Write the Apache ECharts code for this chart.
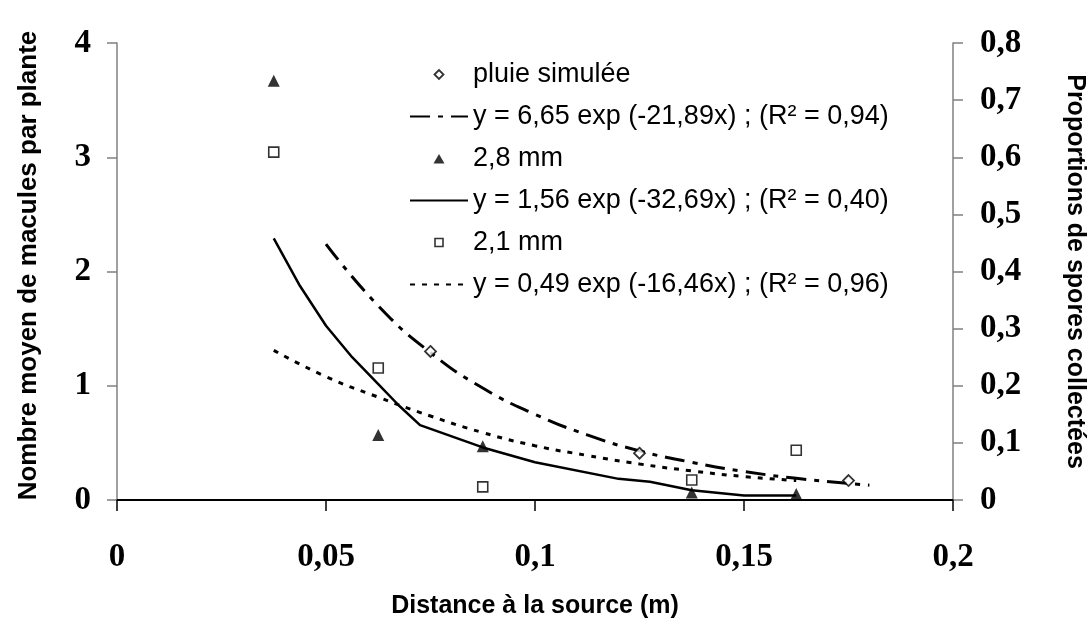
<!DOCTYPE html>
<html>
<head>
<meta charset="utf-8">
<script src="https://cdn.jsdelivr.net/npm/echarts@6/dist/echarts.min.js"></script>
<style>
html,body{margin:0;padding:0;background:#fff;}
#chart{width:1088px;height:622px;}
</style>
</head>
<body>
<div id="chart"></div>
<script>
// ---- data ----
const xTicks = [0, 0.05, 0.1, 0.15, 0.2];

// pluie simulée (left axis: nombre moyen de macules par plante)
const pluieX = [0.075, 0.125, 0.175];
const pluieY = [1.30, 0.41, 0.17];
const pluieFitX = [0.05, 0.0625, 0.075, 0.0875, 0.1, 0.1125, 0.125, 0.1375, 0.15, 0.1625, 0.175, 0.18];
const pluieFitY = [2.24, 1.70, 1.29, 0.98, 0.75, 0.57, 0.43, 0.33, 0.25, 0.19, 0.145, 0.13];

// 2,8 mm (right axis: proportions de spores collectées)
const mm28X = [0.0375, 0.0625, 0.0875, 0.1375, 0.1625];
const mm28Y = [0.734, 0.114, 0.094, 0.013, 0.0105];
const mm28FitX = [0.0375, 0.04375, 0.05, 0.05625, 0.0625, 0.0675, 0.0725, 0.0875, 0.1, 0.12, 0.1275, 0.1375, 0.15, 0.1625];
const mm28FitY = [0.458, 0.375, 0.305, 0.25, 0.203, 0.165, 0.131, 0.092, 0.066, 0.037, 0.032, 0.017, 0.008, 0.008];

// 2,1 mm (right axis)
const mm21X = [0.0375, 0.0625, 0.0875, 0.1375, 0.1625];
const mm21Y = [0.609, 0.231, 0.023, 0.035, 0.087];
const mm21FitX = [0.0375, 0.05, 0.0625, 0.075, 0.0875, 0.1, 0.1125, 0.125, 0.1375, 0.15, 0.1625];
const mm21FitY = [0.262, 0.216, 0.18, 0.147, 0.118, 0.095, 0.078, 0.063, 0.051, 0.041, 0.034];

const names = [
  'pluie simulée',
  'y = 6,65 exp (-21,89x) ; (R² = 0,94)',
  '2,8 mm',
  'y = 1,56 exp (-32,69x) ; (R² = 0,40)',
  '2,1 mm',
  'y = 0,49 exp (-16,46x) ; (R² = 0,96)'
];

const zip = (xs, ys) => xs.map((x, i) => [x, ys[i]]);
const fmt = v => String(+(+v).toFixed(3)).replace('.', ',');

const tickFont = { fontFamily: 'Liberation Serif', fontWeight: 'bold', fontSize: 33, color: '#000' };
const titleFont = { fontFamily: 'Liberation Sans', fontWeight: 'bold', fontSize: 25, color: '#000' };
const hiddenDot = { color: 'rgba(0,0,0,0)', borderColor: 'rgba(0,0,0,0)', borderWidth: 0 };

// legend marker shapes: the leading moves set a 58x10 box so the marker keeps its own size, centred
const box = 'path://M0,0 M58,10 ';
const iconDiamond = box + 'M24.5,5 L29,0.5 L33.5,5 L29,9.5 Z';
const iconTriangle = box + 'M23.5,10 L29,0.5 L34.5,10 Z';
const iconSquare = box + 'M25,1 L33,1 L33,9 L25,9 Z';

const chart = echarts.init(document.getElementById('chart'), null, { renderer: 'canvas' });
chart.setOption({
  animation: false,
  backgroundColor: '#fff',
  grid: { left: 117, right: 135, top: 43, bottom: 122, containLabel: false, outerBoundsMode: 'none' },
  legend: {
    orient: 'vertical',
    left: 404,
    top: 56,
    itemWidth: 58,
    itemHeight: 10,
    itemGap: 15,
    textStyle: { fontFamily: 'Liberation Sans', fontSize: 27, color: '#000', lineHeight: 27 },
    data: [
      { name: names[0], icon: iconDiamond, itemStyle: { color: '#fff', borderColor: '#000', borderWidth: 1.8 } },
      { name: names[1], itemStyle: hiddenDot },
      { name: names[2], icon: iconTriangle, itemStyle: { color: '#000', borderWidth: 0 } },
      { name: names[3], itemStyle: hiddenDot },
      { name: names[4], icon: iconSquare, itemStyle: { color: '#fff', borderColor: '#000', borderWidth: 1.6 } },
      { name: names[5], itemStyle: hiddenDot }
    ]
  },
  xAxis: {
    type: 'value', min: 0, max: 0.2, interval: 0.05,
    name: 'Distance à la source (m)', nameLocation: 'middle', nameGap: 94,
    nameTextStyle: titleFont,
    axisLine: { show: true, lineStyle: { color: '#000', width: 2 } },
    axisTick: { show: true, inside: false, length: 11, lineStyle: { color: '#000', width: 1.5 } },
    axisLabel: Object.assign({ margin: 41, formatter: fmt }, tickFont),
    splitLine: { show: false }
  },
  yAxis: [
    {
      type: 'value', min: 0, max: 4, interval: 1, position: 'left',
      name: 'Nombre moyen de macules par plante', nameLocation: 'middle', nameGap: 75,
      nameTextStyle: { fontFamily: 'Liberation Sans', fontWeight: 'bold', color: '#000', fontSize: 26, padding: [0, 0, 0, 12] },
      axisLine: { show: true, lineStyle: { color: '#808080', width: 1.5 } },
      axisTick: { show: true, inside: false, length: 10, lineStyle: { color: '#808080', width: 1.5 } },
      axisLabel: Object.assign({ margin: 26, formatter: fmt }, tickFont),
      splitLine: { show: false }
    },
    {
      type: 'value', min: 0, max: 0.8, interval: 0.1, position: 'right',
      name: 'Proportions de spores collectées', nameLocation: 'middle', nameGap: 109, nameRotate: -90,
      nameTextStyle: titleFont,
      axisLine: { show: true, lineStyle: { color: '#808080', width: 1.5 } },
      axisTick: { show: true, inside: false, length: 10, lineStyle: { color: '#808080', width: 1.5 } },
      axisLabel: Object.assign({ margin: 27, formatter: fmt }, tickFont),
      splitLine: { show: false }
    }
  ],
  series: [
    {
      name: names[0], type: 'scatter', yAxisIndex: 0, data: zip(pluieX, pluieY),
      symbol: 'diamond', symbolSize: 11, z: 5,
      itemStyle: { color: '#fff', borderColor: '#000', borderWidth: 1.8 }
    },
    {
      name: names[1], type: 'line', yAxisIndex: 0, data: zip(pluieFitX, pluieFitY),
      symbol: 'none', smooth: true,
      lineStyle: { color: '#000', width: 3, type: [20, 8, 5, 8], cap: 'butt' },
      itemStyle: { color: '#000' }
    },
    {
      name: names[2], type: 'scatter', yAxisIndex: 1, data: zip(mm28X, mm28Y),
      symbol: 'triangle', symbolSize: 12, z: 5,
      itemStyle: { color: '#000', borderColor: '#000', borderWidth: 0 }
    },
    {
      name: names[3], type: 'line', yAxisIndex: 1, data: zip(mm28FitX, mm28FitY),
      symbol: 'none', smooth: false,
      lineStyle: { color: '#000', width: 2.5, type: 'solid' },
      itemStyle: { color: '#000' }
    },
    {
      name: names[4], type: 'scatter', yAxisIndex: 1, data: zip(mm21X, mm21Y),
      symbol: 'rect', symbolSize: 10, z: 5,
      itemStyle: { color: '#fff', borderColor: '#000', borderWidth: 1.6 }
    },
    {
      name: names[5], type: 'line', yAxisIndex: 1, data: zip(mm21FitX, mm21FitY),
      symbol: 'none', smooth: true,
      lineStyle: { color: '#000', width: 3, type: [5, 7], cap: 'butt' },
      itemStyle: { color: '#000' }
    }
  ]
});
</script>
</body>
</html>
